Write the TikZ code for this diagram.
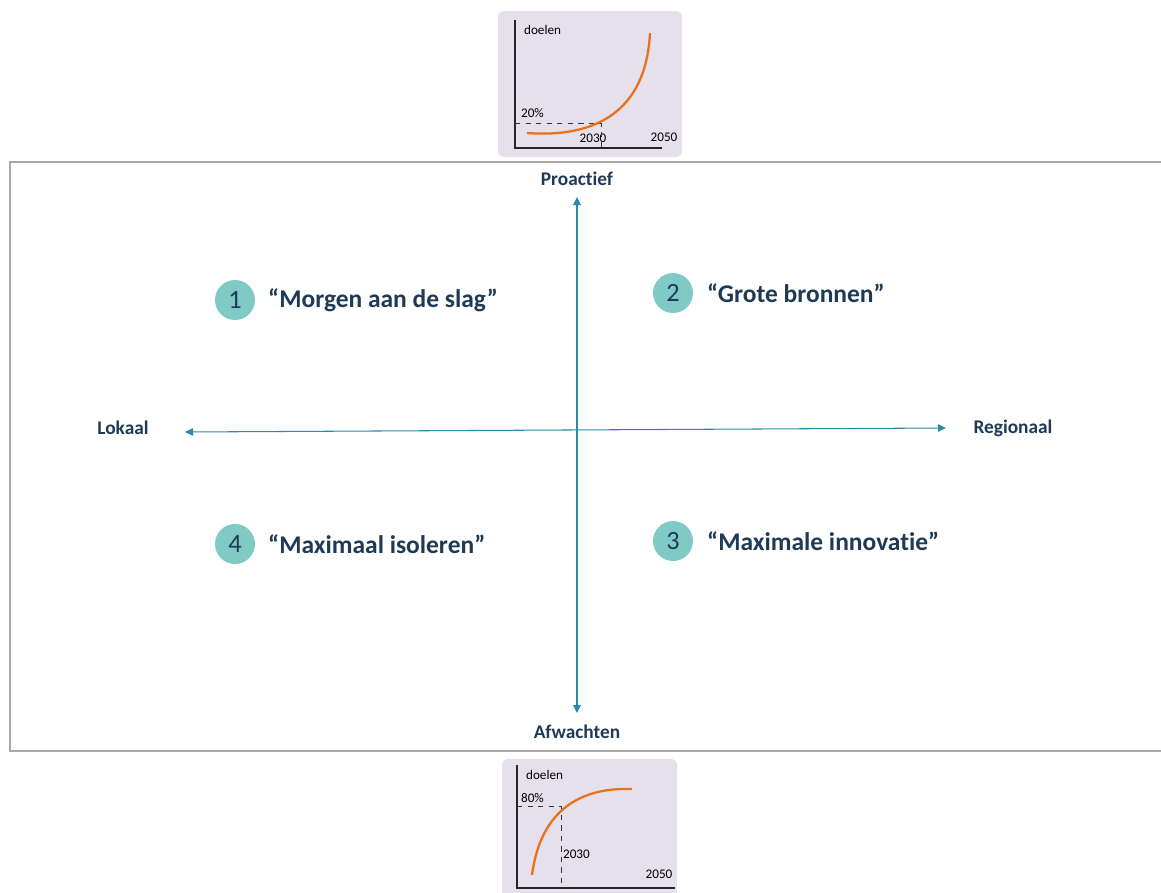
\documentclass[tikz,border=0pt]{standalone}
\usepackage{fontspec}
\setmainfont[RawFeature={-liga}]{Carlito}
\usetikzlibrary{arrows.meta,positioning}
\definecolor{navy}{HTML}{1F3A56}
\definecolor{axisblue}{HTML}{2A89AC}
\definecolor{circteal}{HTML}{7FCAC5}
\definecolor{chartbg}{HTML}{E5E0EB}
\definecolor{curveorange}{HTML}{E8711C}
\definecolor{framegray}{HTML}{A8A8A8}

\begin{document}
\begin{tikzpicture}[x=0.02cm,y=-0.02cm,
  axislabel/.style={font=\fontsize{11}{13}\selectfont\bfseries,text=navy},
  numcircle/.style={circle,fill=circteal,minimum size=0.8cm,inner sep=0pt,
                    font=\fontsize{15}{17}\selectfont,text=navy},
  scenario/.style={anchor=west,font=\fontsize{14.5}{17}\selectfont\bfseries,
                   text=navy},
  arr/.style={{Triangle[length=1.6mm,width=1.5mm]}-{Triangle[length=1.6mm,width=1.5mm]},
              semithick,draw=axisblue},
  chartbox/.style={fill=chartbg,rounded corners=3pt,draw=none},
  charttxt/.style={font=\fontsize{7.5}{9}\selectfont,inner sep=1pt},
  chartaxis/.style={line width=1.1pt,draw=black!85},
  guide/.style={dashed,thin,draw=black!80},
  growth/.style={line width=1.3pt,draw=curveorange}
]
\useasboundingbox (0,0) rectangle (1161,893);

% top chart
\fill[chartbox] (498,11) rectangle (682,157);
\draw[chartaxis] (515,20) -- (515,148) -- (662,148);
\node[charttxt,anchor=west] (topgoal) at (522,30) {doelen};
\node[charttxt,anchor=west] (toppct) at (519,113) {20\%};
\node[charttxt] (topyr) at (593,138) {2030};
\node[charttxt] (topend) at (664,137) {2050};
\draw[guide] (515,123) -- (601,123) -- (601,148);
\draw[growth] (527,133) .. controls (595,138) and (646,112) .. (650,33);

% bottom chart
\fill[chartbox] (502,759) rectangle (677,900);
\draw[chartaxis] (517,765) -- (517,888) -- (675,888);
\node[charttxt,anchor=west] (botgoal) at (524,775) {doelen};
\node[charttxt,anchor=west] (botpct) at (519,798) {80\%};
\node[charttxt,anchor=west] (botyr) at (561,854) {2030};
\node[charttxt] (botend) at (659,874) {2050};
\draw[guide] (517,806) -- (561,806) -- (561,888);
\draw[growth] (532,875) .. controls (540,815) and (575,787) .. (632,789);

% frame
\draw[framegray,line width=1.2pt] (1165,162) -- (10,162) -- (10,751) -- (1165,751);

% axes
\node[axislabel] (pro) at (577,179) {Proactief};
\node[axislabel] (afw) at (577,732) {Afwachten};
\node[axislabel] (lok) at (123,428) {Lokaal};
\node[axislabel] (reg) at (1013,428) {Regionaal};
\coordinate (ytop) at (577,197);
\coordinate (ybot) at (577,713);
\coordinate (xleft) at (185,432);
\coordinate (xright) at (946,428);
\draw[arr] (ytop) -- (ybot);
\draw[arr] (xleft) -- (xright);

% scenarios
\node[numcircle] (c1) at (235,300) {1};
\node[scenario] (s1) at (262,300) {“Morgen aan de slag”};
\node[numcircle] (c2) at (673,293) {2};
\node[scenario] (s2) at (701,293) {“Grote bronnen”};
\node[numcircle] (c3) at (673,541) {3};
\node[scenario] (s3) at (701,541) {“Maximale innovatie”};
\node[numcircle] (c4) at (235,544) {4};
\node[scenario] (s4) at (262,544) {“Maximaal isoleren”};
\end{tikzpicture}
\end{document}
